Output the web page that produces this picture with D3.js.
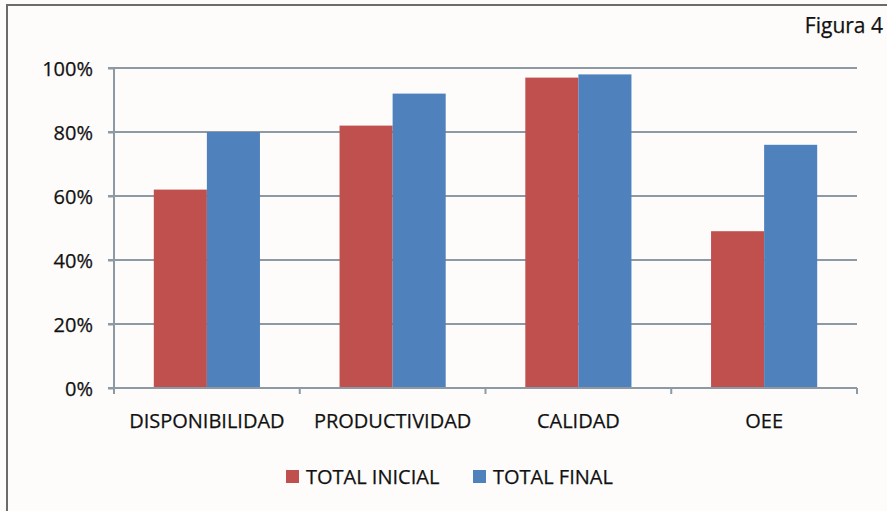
<!DOCTYPE html>
<html>
<head>
<style type="text/css">
body { margin: 0; background: #fdfcfb; }
text { font-family: "Open Sans", "Noto Sans", sans-serif; fill: #111; stroke: #111; stroke-width: 0.25px; }
.grid line { stroke: #8d9aa3; stroke-width: 2; }
.axis path, .axis line { stroke: #8d9aa3; stroke-width: 2; }
</style>
<script src="https://d3js.org/d3.v7.min.js"></script>
</head>
<body>
<script type="text/javascript">
var categories = ["DISPONIBILIDAD", "PRODUCTIVIDAD", "CALIDAD", "OEE"];
var seriesNames = ["TOTAL INICIAL", "TOTAL FINAL"];
var inicial = [62, 82, 97, 49];
var final = [80, 92, 98, 76];
var ticks = [0, 20, 40, 60, 80, 100];
var colors = ["#c0504d", "#4f81bd"];

var width = 887, height = 511;
var plotLeft = 114, plotRight = 857, plotTop = 68, plotBottom = 388;

var svg = d3.select("body").append("svg").attr("width", width).attr("height", height);

// frame: only top and left edges show
svg.append("line").attr("x1", 6).attr("x2", width).attr("y1", 5).attr("y2", 5)
	.attr("stroke", "#6b6b6b").attr("stroke-width", 2);
svg.append("line").attr("x1", 7).attr("x2", 7).attr("y1", 5).attr("y2", height)
	.attr("stroke", "#6b6b6b").attr("stroke-width", 2);

svg.append("text").attr("x", 883).attr("y", 33).attr("text-anchor", "end")
	.style("font-size", "21px").text("Figura 4");

var x = d3.scaleBand().domain(categories).range([plotLeft, plotRight]);
var y = d3.scaleLinear().domain([0, 100]).range([plotBottom, plotTop]);

// gridlines
svg.append("g").attr("class", "grid").selectAll("line")
	.data(ticks.filter(function(t){ return t > 0; })).enter().append("line")
	.attr("x1", plotLeft - 6).attr("x2", plotRight)
	.attr("y1", function(d){ return y(d); }).attr("y2", function(d){ return y(d); });

// bars: Excel gap width 150%
var bw = x.bandwidth() / 3.5;
var data = categories.map(function(c, i){ return {cat: c, vals: [inicial[i], final[i]]}; });
var groups = svg.append("g").selectAll("g").data(data).enter().append("g")
	.attr("transform", function(d){ return "translate(" + (x(d.cat) + bw * 0.75) + ",0)"; });
groups.selectAll("rect").data(function(d){ return d.vals; }).enter().append("rect")
	.attr("x", function(d, i){ return i * bw; })
	.attr("width", bw)
	.attr("y", function(d){ return y(d); })
	.attr("height", function(d){ return plotBottom - y(d); })
	.attr("fill", function(d, i){ return colors[i]; });

// y axis
var yAxis = svg.append("g").attr("class", "axis").attr("transform", "translate(" + plotLeft + ",0)")
	.call(d3.axisLeft(y).tickValues(ticks).tickSize(6).tickPadding(15)
		.tickFormat(function(d){ return d + "%"; }));
yAxis.selectAll("text").style("font-size", "20px").attr("dy", "0.35em");

// x axis
var xAxis = svg.append("g").attr("class", "axis").attr("transform", "translate(0," + plotBottom + ")")
	.call(d3.axisBottom(x).tickSize(0).tickPadding(26));
xAxis.selectAll("text").style("font-size", "20px");
xAxis.selectAll(".cat-tick").data(d3.range(categories.length + 1)).enter().append("line")
	.attr("class", "cat-tick")
	.attr("x1", function(d){ return plotLeft + d * x.step(); })
	.attr("x2", function(d){ return plotLeft + d * x.step(); })
	.attr("y1", 0).attr("y2", 6);
svg.selectAll(".axis .domain").remove();
svg.append("line").attr("x1", plotLeft).attr("x2", plotLeft).attr("y1", plotTop).attr("y2", plotBottom)
	.attr("stroke", "#8d9aa3").attr("stroke-width", 2);
svg.append("line").attr("x1", plotLeft - 6).attr("x2", plotRight).attr("y1", plotBottom).attr("y2", plotBottom)
	.attr("stroke", "#8d9aa3").attr("stroke-width", 2);

// legend
var legendX = [286, 473];
var legend = svg.append("g").selectAll("g").data(seriesNames).enter().append("g")
	.attr("transform", function(d, i){ return "translate(" + legendX[i] + ",470)"; });
legend.append("rect").attr("width", 13).attr("height", 13)
	.attr("fill", function(d, i){ return colors[i]; });
legend.append("text").attr("x", 20).attr("y", 14).style("font-size", "20px")
	.text(function(d){ return d; });
</script>
</body>
</html>
